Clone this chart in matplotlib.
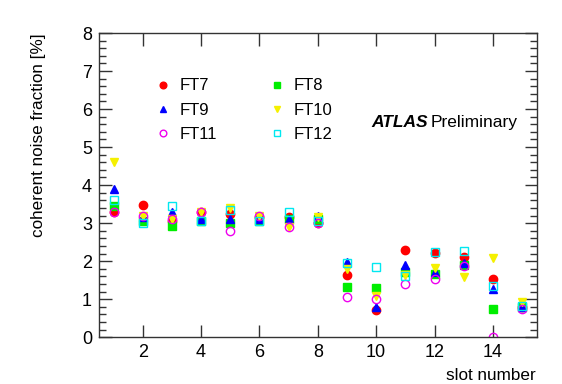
import matplotlib
matplotlib.use("Agg")
import matplotlib.pyplot as plt
from matplotlib.ticker import MultipleLocator

plt.rcParams['font.family'] = ['Liberation Sans', 'DejaVu Sans']

# slot numbers
slots = [1, 2, 3, 4, 5, 6, 7, 8, 9, 10, 11, 12, 13, 14, 15]

# coherent noise fraction [%] per feedthrough
ft7 = [3.28, 3.48, 3.05, 3.30, 3.25, 3.15, 3.15, 3.00, 1.63, 0.71, 2.29, 2.22, 2.12, 1.52, 0.80]
ft8 = [3.45, 3.05, 2.92, 3.05, 3.00, 3.05, 3.10, 3.10, 1.32, 1.28, 1.71, 1.65, 1.90, 0.73, 0.80]
ft9 = [3.90, 3.15, 3.30, 3.10, 3.10, 3.10, 3.10, 3.20, 1.98, 0.79, 1.91, 1.72, 1.94, 1.26, 0.78]
ft10 = [4.60, 3.20, 3.10, 3.30, 3.40, 3.20, 2.90, 3.15, 1.79, 1.08, 1.63, 1.82, 1.59, 2.07, 0.93]
ft11 = [3.30, 3.20, 3.10, 3.30, 2.80, 3.20, 2.90, 3.00, 1.05, 1.00, 1.39, 1.52, 1.88, 0.00, 0.73]
ft12 = [3.60, 3.00, 3.45, 3.05, 3.35, 3.05, 3.30, 3.05, 1.95, 1.85, 1.60, 2.23, 2.26, 1.35, 0.82]

series = [
    ("FT7", ft7, "o", "#ff0000", True),
    ("FT8", ft8, "s", "#00ee00", True),
    ("FT9", ft9, "^", "#0000ff", True),
    ("FT10", ft10, "v", "#f5f000", True),
    ("FT11", ft11, "o", "#ee00ee", False),
    ("FT12", ft12, "s", "#00e8f0", False),
]

fig = plt.figure(figsize=(5.62, 3.84), dpi=100)
ax = fig.add_axes([0.176, 0.122, 0.779, 0.792])

handles = {}
for name, vals, mk, col, filled in series:
    h, = ax.plot(slots, vals, linestyle='none', marker=mk, markersize=6,
                 markerfacecolor=col if filled else 'none',
                 markeredgecolor=col, markeredgewidth=1.0, label=name)
    handles[name] = h

ax.set_xlim(0.5, 15.5)
ax.set_ylim(0, 8)
ax.xaxis.set_major_locator(MultipleLocator(2))
ax.yaxis.set_major_locator(MultipleLocator(1))
ax.yaxis.set_minor_locator(MultipleLocator(0.2))
ax.tick_params(which='both', direction='in', top=True, right=True,
               labelsize=13, color='#333333')
ax.tick_params(which='major', length=9, width=1)
ax.tick_params(which='minor', length=5, width=1)
ax.tick_params(axis='x', pad=5)
ax.tick_params(axis='y', pad=5)
for s in ax.spines.values():
    s.set_color('#333333')
    s.set_linewidth(1)

fig.text(0.068, 0.914, "coherent noise fraction [%]", rotation=90,
         ha='center', va='top', fontsize=12.3)
fig.text(0.953, 0.003, "slot number", ha='right', va='bottom', fontsize=12.3)

order = ["FT7", "FT9", "FT11", "FT8", "FT10", "FT12"]
leg = ax.legend([handles[n] for n in order], order, ncol=2, loc='upper left',
                bbox_to_anchor=(0.1, 0.9), frameon=False, fontsize=12,
                markerscale=0.8, handlelength=0.6, handletextpad=0.7,
                columnspacing=3.3, labelspacing=0.55)

ax.text(0.623, 0.705, "ATLAS", transform=ax.transAxes, fontsize=12.5,
        fontweight='bold', fontstyle='italic', va='center', ha='left')
ax.text(0.758, 0.705, "Preliminary", transform=ax.transAxes, fontsize=12.5,
        va='center', ha='left')

fig.savefig("out.png", dpi=100)
